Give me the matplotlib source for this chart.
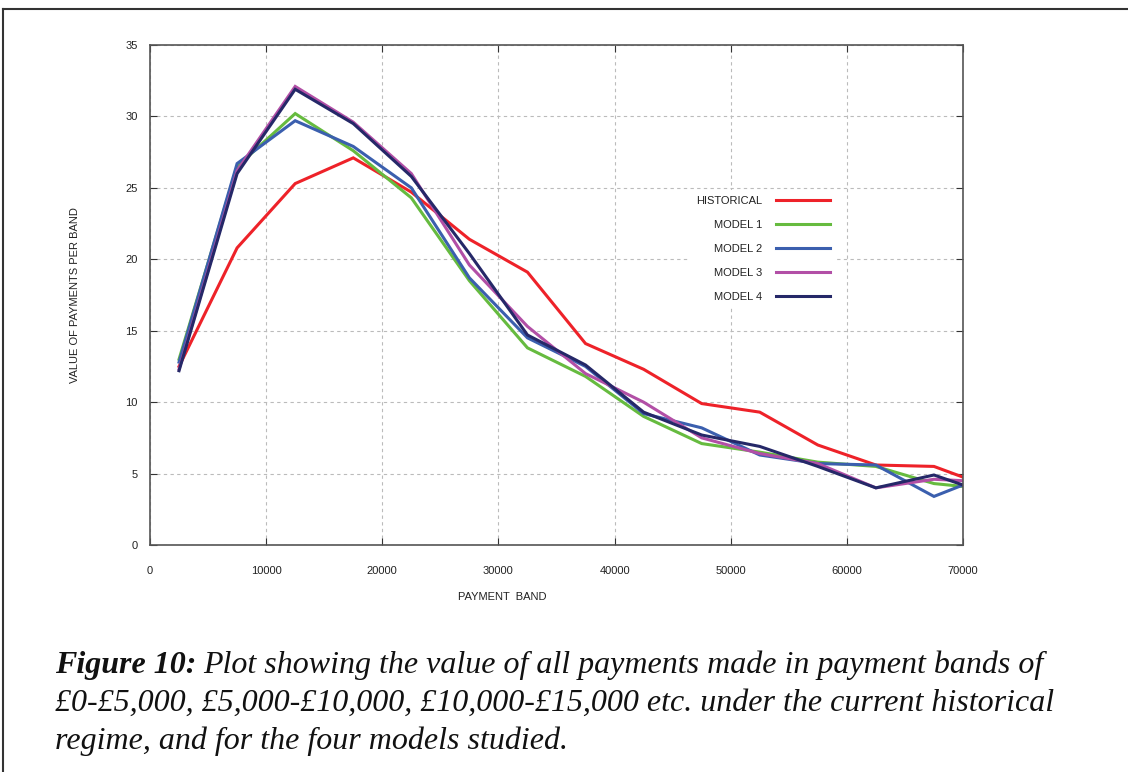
import numpy as np
import matplotlib.pyplot as plt
from matplotlib.lines import Line2D

# payment band midpoints (last point lies beyond the axis and is clipped)
bands = [2500, 7500, 12500, 17500, 22500, 27500, 32500, 37500,
         42500, 47500, 52500, 57500, 62500, 67500, 72500]

historical = [12.5, 20.8, 25.3, 27.1, 24.7, 21.4, 19.1, 14.1,
              12.3, 9.9, 9.3, 7.0, 5.6, 5.5, 4.0]
model1 = [13.0, 26.5, 30.2, 27.6, 24.3, 18.5, 13.8, 11.8,
          9.0, 7.1, 6.5, 5.8, 5.5, 4.3, 3.9]
model2 = [12.8, 26.7, 29.7, 27.9, 25.0, 18.7, 14.5, 12.5,
          9.2, 8.2, 6.3, 5.7, 5.6, 3.4, 5.0]
model3 = [12.3, 26.2, 32.1, 29.6, 26.0, 19.6, 15.3, 12.0,
          10.0, 7.5, 6.4, 5.7, 4.0, 4.6, 4.4]
model4 = [12.2, 26.0, 31.9, 29.5, 25.8, 20.4, 14.7, 12.6,
          9.3, 7.7, 6.9, 5.5, 4.0, 4.9, 3.5]

series = [("HISTORICAL", historical, "#ee2229"),
          ("MODEL 1", model1, "#66bb3f"),
          ("MODEL 2", model2, "#3b5fae"),
          ("MODEL 3", model3, "#b24fa6"),
          ("MODEL 4", model4, "#252868")]

xticks = [0, 10000, 20000, 30000, 40000, 50000, 60000, 70000]
yticks = [0, 5, 10, 15, 20, 25, 30, 35]

W, H = 1128, 772
fig = plt.figure(figsize=(W / 100, H / 100), dpi=100)
ax = fig.add_axes([150 / W, 1 - 545 / H, (963 - 150) / W, (545 - 45) / H])

for name, vals, col in series:
    ax.plot(bands, vals, color=col, lw=2.2, label=name, solid_joinstyle="miter")

ax.set_xlim(0, 70000)
ax.set_ylim(0, 35)
ax.set_xticks(xticks)
ax.set_yticks(yticks)
ax.grid(True, color="#bbbbbb", linestyle=(0, (3, 3)), lw=0.8)
ax.tick_params(direction="in", top=True, right=True, length=5,
               labelsize=8, colors="#333333", labelcolor="#222222")
ax.tick_params(axis="x", pad=15)
ax.tick_params(axis="y", pad=9)
for s in ax.spines.values():
    s.set_color("#555555")
    s.set_linewidth(1.2)
for lab in ax.get_xticklabels() + ax.get_yticklabels():
    lab.set_family("Liberation Sans")

ax.set_xlabel("PAYMENT  BAND", fontsize=8, family="Liberation Sans", color="#222222")
ax.xaxis.set_label_coords((502 - 150) / 813, -0.095)
ax.set_ylabel("VALUE OF PAYMENTS PER BAND", fontsize=8, family="Liberation Sans",
              color="#222222")
ax.yaxis.set_label_coords(-70 / 813, 0.5)

leg = ax.legend(loc="upper left", bbox_to_anchor=((684 - 150) / 813, 1 - (184 - 45) / 500),
                markerfirst=False, handlelength=4.9, handletextpad=1.2,
                labelspacing=1.25, prop={"family": "Liberation Sans", "size": 8},
                frameon=True, fancybox=False, borderpad=0.6)
leg.get_frame().set_edgecolor("none")
leg.get_frame().set_facecolor("white")
leg.get_frame().set_alpha(1)
for t in leg.get_texts():
    t.set_color("#222222")
    t.set_ha("right")

# outer frame of the figure box
fig.add_artist(Line2D([3 / W, 3 / W], [0, 1 - 9 / H], color="#333333", lw=1.5))
fig.add_artist(Line2D([3 / W, 1], [1 - 9 / H, 1 - 9 / H], color="#333333", lw=1.5))

# caption
cap_font = dict(family="Liberation Serif", style="italic", size=23, color="#111111")
x0 = 55 / W
y1 = 1 - 665 / H
t1 = fig.text(x0, y1, "Figure 10:", weight="bold", va="center", **cap_font)
fig.canvas.draw()
bb = t1.get_window_extent()
fig.text(bb.x1 / W + 7 / W, y1,
         "Plot showing the value of all payments made in payment bands of",
         va="center", **cap_font)
fig.text(x0, 1 - 703 / H,
         "£0-£5,000, £5,000-£10,000, £10,000-£15,000 etc. under the current historical",
         va="center", **cap_font)
fig.text(x0, 1 - 741 / H, "regime, and for the four models studied.",
         va="center", **cap_font)

fig.savefig("out.png", dpi=100)
